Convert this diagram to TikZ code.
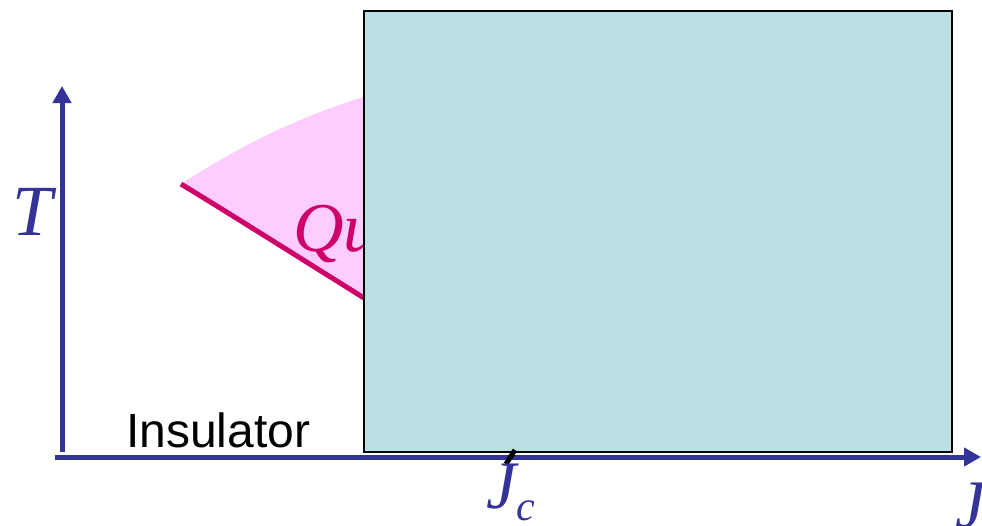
\documentclass[tikz,border=0pt]{standalone}
\usepackage{fontspec}
\setmainfont{Liberation Serif}
\newfontfamily\sansfam{Liberation Sans}
\usetikzlibrary{arrows.meta}
\definecolor{axisblue}{HTML}{333399}
\definecolor{pinkfill}{HTML}{FFCCFF}
\definecolor{critmag}{HTML}{CC0066}
\definecolor{boxfill}{HTML}{BBE0E3}
\tikzset{
  axis/.style={draw=axisblue, line width=5pt, -{Triangle[length=17pt,width=18pt]}},
  axlabel/.style={text=axisblue, inner sep=0pt, font=\fontsize{72}{72}\selectfont\itshape},
  critline/.style={draw=critmag, line width=5pt},
  coverbox/.style={draw=black, line width=2pt, fill=boxfill},
}
\begin{document}
\begin{tikzpicture}[x=1pt,y=-1pt]
\useasboundingbox (0,0) rectangle (982,525);
% pink quantum critical fan
\coordinate (apex) at (181,184);
\coordinate (upend) at (380,92);
\coordinate (lowend) at (380,308);
\fill[pinkfill] (apex) .. controls (240,146) and (300,115) .. (upend) -- (lowend) .. controls (300,262) and (240,222) .. (apex) -- cycle;
\draw[critline] (apex) .. controls (240,220) and (300,258) .. (lowend);
\node[anchor=base west, inner sep=0pt, text=critmag, font=\fontsize{70}{70}\selectfont\itshape] (qu) at (293,251) {Qu};
% axes
\coordinate (origin) at (62,452);
\coordinate (ytip) at (62,86);
\coordinate (xstart) at (55,457);
\coordinate (xtip) at (981,457);
\draw[axis] (origin) -- (ytip);
\draw[axis] (xstart) -- (xtip);
% covering box
\node[coverbox, minimum width=588pt, minimum height=441pt, inner sep=0pt, anchor=north west] (box) at (363,10) {};
% tick at Jc
\coordinate (tickA) at (515,450);
\coordinate (tickB) at (506,464);
\draw[black, line width=5pt] (tickA) -- (tickB);
% labels
\node[axlabel, anchor=base] (T) at (33,235) {T};
\node[anchor=base west, inner sep=0pt, font=\sansfam\fontsize{48}{48}\selectfont] (ins) at (126,447) {Insulator};
\node[anchor=base west, inner sep=0pt, text=axisblue, font=\fontsize{68}{68}\selectfont\itshape] (Jc) at (486,508) {J\raisebox{-12pt}{\fontsize{42}{42}\selectfont c}};
\node[anchor=base west, inner sep=0pt, text=axisblue, font=\fontsize{68}{68}\selectfont\itshape] (J) at (955,527) {J};
\end{tikzpicture}
\end{document}
